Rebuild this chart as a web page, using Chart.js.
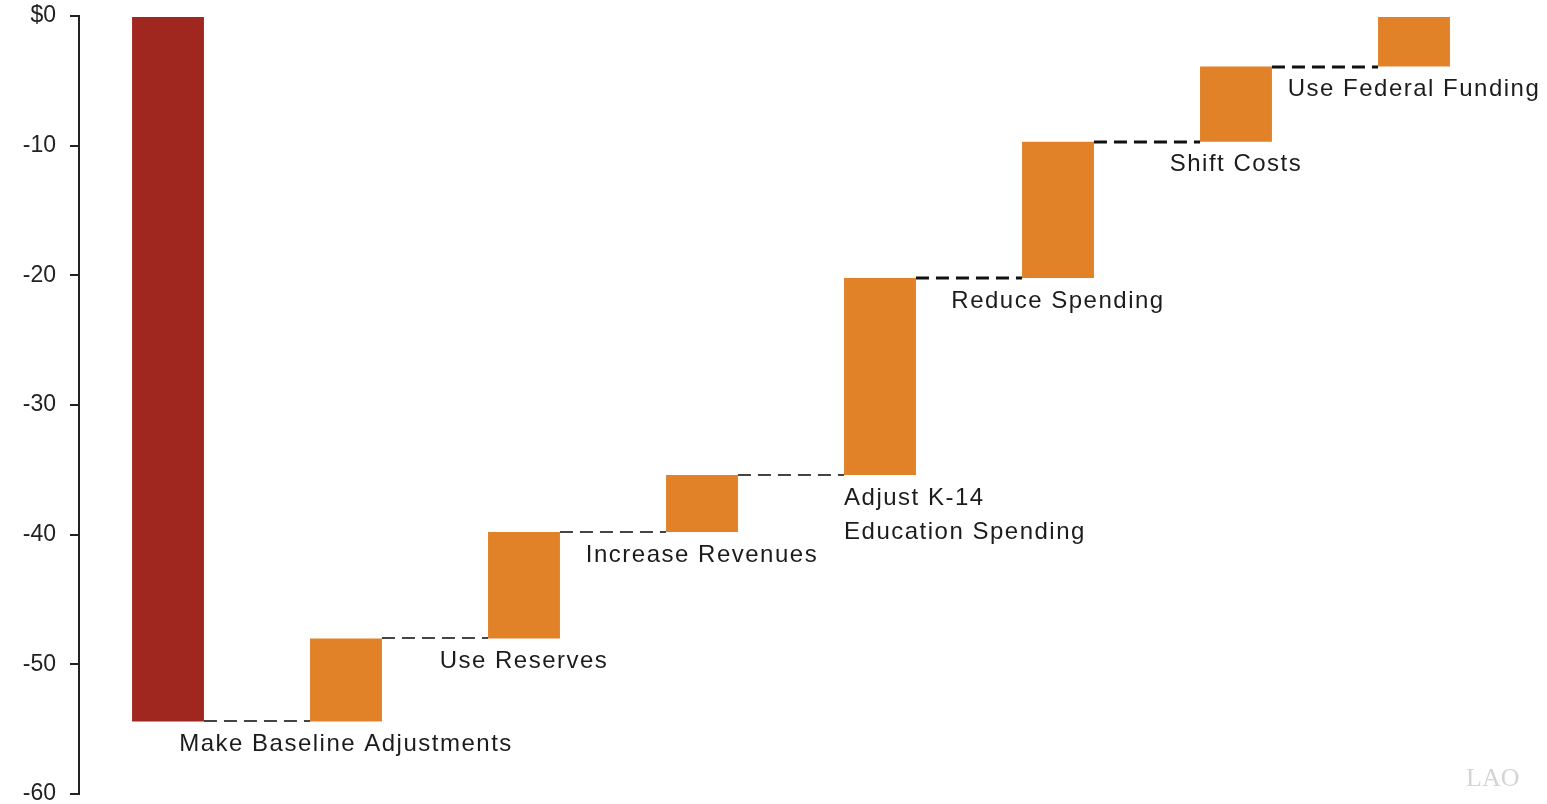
<!DOCTYPE html>
<html>
<head>
<meta charset="utf-8">
<script src="https://cdn.jsdelivr.net/npm/chart.js@4/dist/chart.umd.min.js"></script>
<style>
  html, body { margin: 0; padding: 0; background: #fff; }
  #wrap { width: 1547px; height: 804px; position: relative; }
</style>
</head>
<body>
<div id="wrap"><canvas id="budgetChart"></canvas></div>
<script>
// categories (first bar is the starting deficit, no label)
const categories = ['Deficit', 'Make Baseline Adjustments', 'Use Reserves', 'Increase Revenues',
    'Adjust K-14 Education Spending', 'Reduce Spending', 'Shift Costs', 'Use Federal Funding'];
// label text drawn under each bar
const barLabels = [[], ['Make Baseline Adjustments'], ['Use Reserves'], ['Increase Revenues'],
    ['Adjust K-14', 'Education Spending'], ['Reduce Spending'], ['Shift Costs'], ['Use Federal Funding']];
// running level (billions) between steps
const levels = [0, -54.4, -48.0, -39.8, -35.4, -20.2, -9.7, -3.9, 0];
const yTicks = [0, -10, -20, -30, -40, -50, -60];

const barData = categories.map((c, i) => [levels[i], levels[i + 1]]);
const barColors = categories.map((c, i) => i === 0 ? 'rgb(160, 38, 32)' : 'rgb(225, 130, 40)');

// dashed connectors + step labels
const stepPlugin = {
    id: 'steps',
    afterDatasetsDraw(chart) {
        const ctx = chart.ctx;
        const y = chart.scales.y;
        const bars = chart.getDatasetMeta(0).data;
        ctx.save();
        for (let i = 0; i < bars.length - 1; i++) {
            const a = bars[i], b = bars[i + 1];
            const py = Math.round(y.getPixelForValue(levels[i + 1]));
            ctx.beginPath();
            ctx.setLineDash([13, 7]);
            ctx.lineWidth = i < 4 ? 2 : 3;
            ctx.strokeStyle = i < 4 ? '#444' : '#111';
            ctx.moveTo(a.x + a.width / 2, py);
            ctx.lineTo(b.x - b.width / 2, py);
            ctx.stroke();
        }
        ctx.setLineDash([]);
        ctx.fillStyle = '#1c1c1c';
        ctx.font = '24px "Liberation Sans", Arial, sans-serif';
        ctx.letterSpacing = '1.5px';
        ctx.textBaseline = 'middle';
        bars.forEach((bar, i) => {
            const lines = barLabels[i];
            if (!lines.length) return;
            const bottom = y.getPixelForValue(Math.min(levels[i], levels[i + 1]));
            const multi = lines.length > 1;
            ctx.textAlign = multi ? 'left' : 'center';
            const tx = multi ? bar.x - bar.width / 2 : bar.x;
            lines.forEach((t, k) => ctx.fillText(t, tx, bottom + 23 + k * 34));
        });
        // faint watermark
        ctx.letterSpacing = '0px';
        ctx.textAlign = 'left';
        ctx.fillStyle = '#d4d4d4';
        ctx.font = '26px "Liberation Serif", serif';
        ctx.fillText('LAO', 1466, 779);
        ctx.restore();
    }
};

const ctx = document.getElementById('budgetChart').getContext('2d');
new Chart(ctx, {
    type: 'bar',
    data: {
        labels: categories,
        datasets: [{
            data: barData,
            backgroundColor: barColors,
            borderWidth: 0,
            barPercentage: 0.404,
            categoryPercentage: 1
        }]
    },
    options: {
        responsive: true,
        maintainAspectRatio: false,
        animation: false,
        layout: { padding: { top: 16, bottom: 10, right: 44, left: 0 } },
        plugins: { legend: { display: false }, tooltip: { enabled: false } },
        scales: {
            x: { display: false },
            y: {
                min: -60,
                max: 0,
                afterBuildTicks(scale) {
                    scale.ticks = yTicks.map(v => ({ value: v }));
                },
                afterFit(scale) {
                    scale.width = 79;
                    scale.paddingTop = 0;
                    scale.paddingBottom = 0;
                },
                grid: { display: true, drawOnChartArea: false, tickLength: 9, color: '#222', lineWidth: 2 },
                border: { display: true, color: '#222', width: 2 },
                ticks: {
                    padding: 14,
                    color: '#222',
                    font: { family: '"Liberation Sans", Arial, sans-serif', size: 23, lineHeight: 1 },
                    callback: v => v === 0 ? '$0' : String(v)
                }
            }
        }
    },
    plugins: [stepPlugin]
});
</script>
</body>
</html>
